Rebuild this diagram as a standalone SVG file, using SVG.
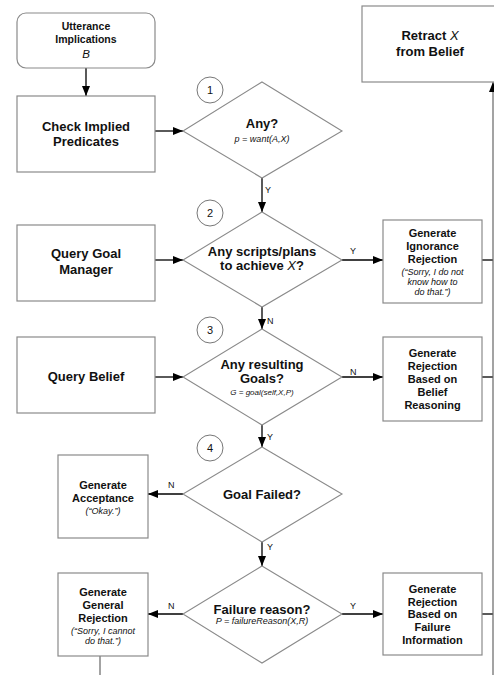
<svg xmlns="http://www.w3.org/2000/svg" width="494" height="675" viewBox="0 0 494 675">
<defs>
<marker id="ah" markerWidth="10" markerHeight="8" refX="10" refY="4" orient="auto" markerUnits="userSpaceOnUse">
<path d="M0,0 L10,4 L0,8 Z" fill="#000"/>
</marker>
<style>
.box{fill:#fff;stroke:#8a8a8a;stroke-width:1.2}
.dia{fill:#fff;stroke:#8a8a8a;stroke-width:1.1}
.circ{fill:#fff;stroke:#777;stroke-width:1}
.con{fill:none;stroke:#000;stroke-width:1.3}
.gry{fill:none;stroke:#666;stroke-width:1.2}
text{font-family:"Liberation Sans",Arial,sans-serif;fill:#111;text-anchor:middle}
.b13{font-size:13px;font-weight:bold}
.b11{font-size:11px;font-weight:bold}
.b105{font-size:10.5px;font-weight:bold}
.i9{font-size:9px;font-style:italic}
.i8{font-size:8px;font-style:italic}
.lbl{font-size:9px;text-anchor:start}
.num{font-size:11px}
</style>
</defs>
<rect width="494" height="675" fill="#fff"/>

<g id="connectors">
<line class="con" x1="86" y1="68" x2="86" y2="96" marker-end="url(#ah)"/>
<line class="con" x1="155" y1="131" x2="183" y2="131" marker-end="url(#ah)"/>
<line class="con" x1="262" y1="178" x2="262" y2="212" marker-end="url(#ah)"/>
<line class="con" x1="155" y1="260" x2="183" y2="260" marker-end="url(#ah)"/>
<line class="con" x1="342" y1="260" x2="383" y2="260" marker-end="url(#ah)"/>
<line class="con" x1="262" y1="307" x2="262" y2="329" marker-end="url(#ah)"/>
<line class="con" x1="155" y1="377" x2="183" y2="377" marker-end="url(#ah)"/>
<line class="con" x1="342" y1="377" x2="383" y2="377" marker-end="url(#ah)"/>
<line class="con" x1="262" y1="425" x2="262" y2="447" marker-end="url(#ah)"/>
<line class="con" x1="183" y1="494" x2="148" y2="494" marker-end="url(#ah)"/>
<line class="con" x1="262" y1="542" x2="262" y2="566" marker-end="url(#ah)"/>
<line class="con" x1="183" y1="614" x2="148" y2="614" marker-end="url(#ah)"/>
<line class="con" x1="342" y1="614" x2="383" y2="614" marker-end="url(#ah)"/>
<line class="con" x1="482" y1="260" x2="493" y2="260"/>
<line class="con" x1="482" y1="377" x2="493" y2="377"/>
<line class="con" x1="482" y1="614" x2="493" y2="614"/>
<line class="gry" x1="493" y1="675" x2="493" y2="82" marker-end="url(#ah)"/>
<line class="gry" x1="100" y1="656" x2="100" y2="675"/>
<text class="lbl" x="265" y="193">Y</text>
<text class="lbl" x="350" y="254">Y</text>
<text class="lbl" x="267" y="324">N</text>
<text class="lbl" x="350" y="375">N</text>
<text class="lbl" x="267" y="440">Y</text>
<text class="lbl" x="168" y="488">N</text>
<text class="lbl" x="267" y="550">Y</text>
<text class="lbl" x="168" y="609">N</text>
<text class="lbl" x="350" y="609">Y</text>
</g>

<g id="utterance">
<rect class="box" x="17" y="13" width="138" height="55" rx="9"/>
<text class="b105" x="86" y="30">Utterance</text>
<text class="b105" x="86" y="43">Implications</text>
<text x="86" y="58" style="font-size:11.5px;font-style:italic">B</text>
</g>

<g id="check">
<rect class="box" x="17" y="96" width="138" height="76"/>
<text class="b13" x="86" y="131">Check Implied</text>
<text class="b13" x="86" y="146">Predicates</text>
</g>

<g id="retract">
<rect class="box" x="362" y="6" width="140" height="76"/>
<text class="b13" x="430" y="40">Retract <tspan font-style="italic" font-weight="normal">X</tspan></text>
<text class="b13" x="430" y="56">from Belief</text>
</g>

<g id="c1"><circle class="circ" cx="210" cy="90" r="13"/><text class="num" x="210" y="94">1</text></g>
<g id="c2"><circle class="circ" cx="210" cy="213" r="13"/><text class="num" x="210" y="217">2</text></g>
<g id="c3"><circle class="circ" cx="210" cy="330" r="13"/><text class="num" x="210" y="334">3</text></g>
<g id="c4"><circle class="circ" cx="210" cy="448" r="13"/><text class="num" x="210" y="452">4</text></g>

<g id="d1">
<polygon class="dia" points="262,82 342,131 262,178 183,131"/>
<text class="b13" x="262" y="128">Any?</text>
<text class="i9" x="262" y="142">p = want(A,X)</text>
</g>

<g id="querygoal">
<rect class="box" x="17" y="225" width="138" height="76"/>
<text class="b13" x="86" y="258">Query Goal</text>
<text class="b13" x="86" y="274">Manager</text>
</g>

<g id="d2">
<polygon class="dia" points="262,212 342,260 262,307 183,260"/>
<text class="b13" x="262" y="256">Any scripts/plans</text>
<text class="b13" x="262" y="270">to achieve <tspan font-style="italic" font-weight="normal">X</tspan>?</text>
</g>

<g id="ignorance">
<rect class="box" x="383" y="220" width="99" height="83"/>
<text class="b11" x="432.5" y="237">Generate</text>
<text class="b11" x="432.5" y="250">Ignorance</text>
<text class="b11" x="432.5" y="263">Rejection</text>
<text class="i9" x="432.5" y="275">(“Sorry, I do not</text>
<text class="i9" x="432.5" y="285">know how to</text>
<text class="i9" x="432.5" y="295">do that.”)</text>
</g>

<g id="querybelief">
<rect class="box" x="17" y="337" width="138" height="76"/>
<text class="b13" x="86" y="381">Query Belief</text>
</g>

<g id="d3">
<polygon class="dia" points="262,329 342,377 262,425 183,377"/>
<text class="b13" x="262" y="369">Any resulting</text>
<text class="b13" x="262" y="383">Goals?</text>
<text class="i8" x="262" y="395">G = goal(self,X,P)</text>
</g>

<g id="beliefrej">
<rect class="box" x="383" y="337" width="99" height="84"/>
<text class="b11" x="432.5" y="357">Generate</text>
<text class="b11" x="432.5" y="370">Rejection</text>
<text class="b11" x="432.5" y="383">Based on</text>
<text class="b11" x="432.5" y="396">Belief</text>
<text class="b11" x="432.5" y="409">Reasoning</text>
</g>

<g id="d4">
<polygon class="dia" points="262,447 342,494 262,542 183,494"/>
<text class="b13" x="262" y="499">Goal Failed?</text>
</g>

<g id="acceptance">
<rect class="box" x="58" y="455" width="90" height="83"/>
<text class="b11" x="103" y="489">Generate</text>
<text class="b11" x="103" y="502">Acceptance</text>
<text class="i9" x="103" y="514">(“Okay.”)</text>
</g>

<g id="d5">
<polygon class="dia" points="262,566 342,614 262,663 183,614"/>
<text class="b13" x="262" y="614">Failure reason?</text>
<text class="i9" x="262" y="624">P = failureReason(X,R)</text>
</g>

<g id="generalrej">
<rect class="box" x="58" y="573" width="90" height="83"/>
<text class="b11" x="103" y="596">Generate</text>
<text class="b11" x="103" y="609">General</text>
<text class="b11" x="103" y="622">Rejection</text>
<text class="i9" x="103" y="634">(“Sorry, I cannot</text>
<text class="i9" x="103" y="644">do that.”)</text>
</g>

<g id="failurerej">
<rect class="box" x="383" y="573" width="99" height="82"/>
<text class="b11" x="432.5" y="593">Generate</text>
<text class="b11" x="432.5" y="606">Rejection</text>
<text class="b11" x="432.5" y="618">Based on</text>
<text class="b11" x="432.5" y="631">Failure</text>
<text class="b11" x="432.5" y="644">Information</text>
</g>
</svg>
